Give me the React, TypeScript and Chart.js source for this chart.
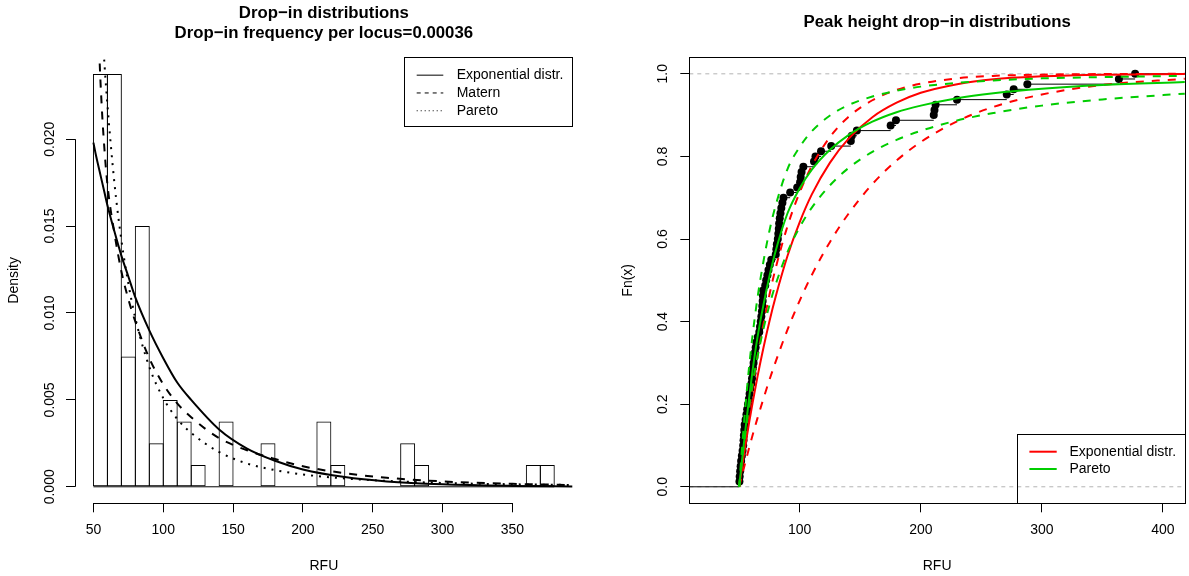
import React, { useEffect, useRef } from "react";
import { Chart, registerables } from "chart.js";

Chart.register(...registerables);

const FONT = "'Liberation Sans', Arial, Helvetica, sans-serif";
Chart.defaults.font.family = FONT;
Chart.defaults.color = "#000";

// ---------------- Left panel: histogram of drop-in peak heights ----------------
const binStarts = [50, 60, 70, 80, 90, 100, 110, 120, 130, 140, 150, 160, 170, 180, 190, 200, 210, 220, 230, 240, 250, 260, 270, 280, 290, 300, 310, 320, 330, 340, 350, 360, 370];
const binDensity = [0.02375, 0.02375, 0.0075, 0.015, 0.0025, 0.005, 0.00375, 0.00125, 0, 0.00375, 0, 0, 0.0025, 0, 0, 0, 0.00375, 0.00125, 0, 0, 0, 0, 0.0025, 0.00125, 0, 0, 0, 0, 0, 0, 0, 0.00125, 0.00125];
const binWidth = 10;

// density curves
const densX = [50, 52, 54, 56, 58, 60, 65, 70, 75, 80, 90, 100, 110, 120, 140, 160, 180, 200, 230, 260, 300, 350, 393];
const expDensity = [0.0198, 0.019, 0.0183, 0.0176, 0.0169, 0.0162, 0.0147, 0.0133, 0.0121, 0.0109, 0.009, 0.0074, 0.006, 0.005, 0.0033, 0.0022, 0.0015, 0.001, 0.00056, 0.00031, 0.00014, 0.00005, 0.00002];
const maternDensity = [0.04, 0.032, 0.0255, 0.0218, 0.0193, 0.0174, 0.0146, 0.0124, 0.0108, 0.0095, 0.0074, 0.0059, 0.0048, 0.004, 0.0028, 0.0021, 0.0016, 0.00118, 0.00078, 0.00052, 0.00031, 0.00017, 0.0001];
const paretoDensity = [0.037, 0.0331, 0.0297, 0.0268, 0.0242, 0.022, 0.0175, 0.0142, 0.0117, 0.0097, 0.0069, 0.0051, 0.0039, 0.0031, 0.002, 0.00134, 0.00096, 0.00071, 0.00048, 0.00034, 0.00022, 0.000145, 0.000104];

const histTicksX = [50, 100, 150, 200, 250, 300, 350];
const histTicksY = [0, 0.005, 0.01, 0.015, 0.02];
const histXRange = [36.8, 393.2];
const histYRange = [-0.00095, 0.0247];

// ---------------- Right panel: empirical CDF and fitted CDFs ----------------
const rfu = [
  50.2, 50.4, 50.8, 51.2, 51.6, 52.2, 52.8, 53.3, 53.6, 53.9, 54.2, 54.5, 55.3, 56.0, 56.6, 57.3, 58.0, 58.6, 59.2,
  60.1, 60.6, 61.0, 61.4, 61.9, 62.4, 63.0, 63.6, 64.2, 65.4, 66.6, 67.2, 67.8, 68.3, 68.8, 69.1, 69.4, 69.6, 69.8,
  71.5, 72.3, 73.3, 74.2, 75.3, 76.5,
  80.2, 80.7, 81.1, 81.9, 82.3, 82.7, 83.0, 83.5, 84.1, 84.8, 85.7, 86.6,
  92.1, 97.9, 100.3, 100.8, 101.5, 103.0, 111.8, 113.0, 117.6, 126.0, 142.2, 143.0, 147.2,
  175.1, 179.5, 210.7, 211.3, 212.2, 229.9, 271.0, 276.7, 288.0, 363.6, 377.0,
];

const cdfX = [50, 52, 55, 58, 61, 65, 70, 75, 80, 90, 100, 110, 125, 140, 160, 180, 200, 230, 260, 300, 350, 418];
const expCdf = [0, 0.04, 0.098, 0.152, 0.202, 0.265, 0.336, 0.401, 0.459, 0.56, 0.641, 0.708, 0.785, 0.842, 0.895, 0.93, 0.954, 0.975, 0.987, 0.994, 0.998, 0.9995];
const expCdfUpper = [0, 0.049, 0.118, 0.181, 0.24, 0.313, 0.393, 0.465, 0.528, 0.632, 0.713, 0.777, 0.847, 0.895, 0.936, 0.961, 0.976, 0.989, 0.995, 0.998, 0.9994, 1.0];
const expCdfLower = [0, 0.024, 0.058, 0.092, 0.124, 0.165, 0.213, 0.259, 0.302, 0.381, 0.451, 0.513, 0.593, 0.66, 0.733, 0.79, 0.835, 0.885, 0.92, 0.95, 0.973, 0.988];
const paretoCdf = [0, 0.055, 0.135, 0.21, 0.28, 0.36, 0.44, 0.51, 0.57, 0.663, 0.723, 0.768, 0.816, 0.851, 0.884, 0.907, 0.923, 0.941, 0.953, 0.964, 0.973, 0.98];
const paretoCdfUpper = [0, 0.08, 0.19, 0.285, 0.365, 0.455, 0.545, 0.62, 0.68, 0.77, 0.823, 0.861, 0.899, 0.924, 0.945, 0.959, 0.969, 0.978, 0.984, 0.989, 0.992, 0.995];
const paretoCdfLower = [0, 0.055, 0.127, 0.191, 0.248, 0.313, 0.382, 0.44, 0.489, 0.569, 0.629, 0.676, 0.73, 0.771, 0.811, 0.84, 0.862, 0.887, 0.905, 0.923, 0.938, 0.952];

const ecdfTicksX = [100, 200, 300, 400];
const ecdfTicksY = [0, 0.2, 0.4, 0.6, 0.8, 1.0];
const ecdfXRange = [8.8, 418.2];
const ecdfYRange = [-0.04, 1.04];
const refLevels = [0, 1];

const RED = "#FF0000";
const GREEN = "#00CD00";

const pts = (xs: number[], ys: number[]) => xs.map((x, i) => ({ x, y: ys[i] }));

// ---------------- plugin drawing R-style axes lines, box and legends ----------------
const rDecor = {
  id: "rDecor",
  afterDraw(chart: any) {
    const o = chart.options.plugins.rDecor;
    if (!o) return;
    const ctx = chart.ctx;
    const a = chart.chartArea;
    const xs = chart.scales.x;
    const ys = chart.scales.y;
    const al = (v: number) => Math.round(v) + 0.5;
    ctx.save();
    ctx.strokeStyle = "#000";
    ctx.lineWidth = 1;
    ctx.setLineDash([]);
    if (o.box) {
      ctx.strokeRect(al(a.left), al(a.top), Math.round(a.right) - Math.round(a.left), Math.round(a.bottom) - Math.round(a.top));
    }
    if (o.axisX) {
      const y = al(a.bottom);
      ctx.beginPath();
      ctx.moveTo(xs.getPixelForValue(o.axisX[0]), y);
      ctx.lineTo(xs.getPixelForValue(o.axisX[1]), y);
      ctx.stroke();
    }
    if (o.axisY) {
      const x = al(a.left);
      ctx.beginPath();
      ctx.moveTo(x, ys.getPixelForValue(o.axisY[0]));
      ctx.lineTo(x, ys.getPixelForValue(o.axisY[1]));
      ctx.stroke();
    }
    if (o.legend) {
      const L = o.legend;
      const x0 = a.right - L.width;
      const y0 = L.anchor === "top" ? a.top : a.bottom - L.height;
      ctx.strokeStyle = "#000";
      ctx.strokeRect(al(x0), al(y0), Math.round(L.width), Math.round(L.height));
      L.items.forEach((it: any, i: number) => {
        const y = y0 + L.firstRow + i * L.rowStep;
        ctx.beginPath();
        ctx.strokeStyle = it.color;
        ctx.lineWidth = it.lineWidth;
        ctx.setLineDash(it.dash || []);
        ctx.moveTo(x0 + L.lineStart, y);
        ctx.lineTo(x0 + L.lineEnd, y);
        ctx.stroke();
        ctx.setLineDash([]);
        ctx.fillStyle = "#000";
        ctx.font = `14px ${FONT}`;
        ctx.textBaseline = "middle";
        ctx.textAlign = "left";
        ctx.fillText(it.label, x0 + L.textStart, y);
      });
    }
    ctx.restore();
  },
};

const tickFont = { size: 14 };

function leftConfig(): any {
  const curve = (label: string, ys: number[], dash: number[], order: number) => ({
    type: "line",
    label,
    data: pts(densX, ys),
    borderColor: "#000",
    borderWidth: 2,
    borderDash: dash,
    pointRadius: 0,
    cubicInterpolationMode: "monotone",
    order,
  });
  return {
    type: "bar",
    data: {
      datasets: [
        curve("Exponential distr.", expDensity, [], 1),
        curve("Matern", maternDensity, [8, 8], 2),
        curve("Pareto", paretoDensity, [2, 6], 3),
        {
          type: "line",
          label: "baseline",
          data: [
            { x: binStarts[0], y: 0 },
            { x: binStarts[binStarts.length - 1] + binWidth, y: 0 },
          ],
          borderColor: "#000",
          borderWidth: 1,
          pointRadius: 0,
          order: 5,
        },
        {
          type: "bar",
          label: "Histogram",
          data: binStarts.map((s, i) => ({ x: s + binWidth / 2, y: binDensity[i] })),
          backgroundColor: "rgba(0,0,0,0)",
          borderColor: "#000",
          borderWidth: 1,
          borderSkipped: false,
          inflateAmount: 0,
          barPercentage: 1.0716,
          categoryPercentage: 1,
          order: 6,
        },
      ],
    },
    options: {
      responsive: false,
      animation: false,
      devicePixelRatio: 1,
      events: [],
      layout: { padding: { left: 0, right: 21.3, top: 0, bottom: 0 } },
      plugins: {
        legend: { display: false },
        tooltip: { enabled: false },
        title: {
          display: true,
          fullSize: false,
          text: ["Drop\u2212in distributions", "Drop\u2212in frequency per locus=0.00036"],
          color: "#000",
          font: { size: 16.8, weight: "bold" },
          padding: { top: 2.92, bottom: 14.22 },
        },
        rDecor: {
          axisX: [histTicksX[0], histTicksX[histTicksX.length - 1]],
          axisY: [histTicksY[0], histTicksY[histTicksY.length - 1]],
          legend: {
            anchor: "top",
            width: 168.4,
            height: 69.4,
            firstRow: 17.7,
            rowStep: 17.8,
            lineStart: 12.4,
            lineEnd: 39,
            textStart: 52.4,
            items: [
              { label: "Exponential distr.", color: "#000", lineWidth: 1, dash: [] },
              { label: "Matern", color: "#000", lineWidth: 1, dash: [4, 4] },
              { label: "Pareto", color: "#000", lineWidth: 1, dash: [1, 3] },
            ],
          },
        },
      },
      scales: {
        x: {
          type: "linear",
          min: histXRange[0],
          max: histXRange[1],
          offset: false,
          afterBuildTicks: (s: any) => {
            s.ticks = histTicksX.map((v) => ({ value: v }));
          },
          afterFit: (s: any) => {
            s.height = 72.7;
          },
          ticks: { autoSkip: false, minRotation: 0, maxRotation: 0, padding: 9.3, color: "#000", font: tickFont, callback: (v: any) => String(v) },
          grid: { display: true, offset: false, drawOnChartArea: false, drawTicks: true, tickLength: 9, tickColor: "#000", tickWidth: 1 },
          border: { display: false },
          title: { display: true, text: "RFU", color: "#000", font: tickFont, padding: { top: 0, bottom: 1.6 } },
        },
        y: {
          type: "linear",
          min: histYRange[0],
          max: histYRange[1],
          afterBuildTicks: (s: any) => {
            s.ticks = histTicksY.map((v) => ({ value: v }));
          },
          afterFit: (s: any) => {
            s.width = 75;
          },
          ticks: { autoSkip: false, minRotation: 90, maxRotation: 90, crossAlign: "center", padding: -1.3, color: "#000", font: tickFont, callback: (v: any) => Number(v).toFixed(3) },
          grid: { display: true, drawOnChartArea: false, drawTicks: true, tickLength: 9, tickColor: "#000", tickWidth: 1 },
          border: { display: false },
          title: { display: true, text: "Density", color: "#000", font: tickFont, padding: { top: 5.6, bottom: 0 } },
        },
      },
    },
    plugins: [rDecor],
  };
}

function rightConfig(): any {
  const curve = (label: string, ys: number[], color: string, dash: number[], order: number) => ({
    label,
    data: pts(cdfX, ys),
    borderColor: color,
    borderWidth: 2,
    borderDash: dash,
    pointRadius: 0,
    cubicInterpolationMode: "monotone",
    order,
  });
  const ecdfY = rfu.map((_, i) => (i + 1) / rfu.length);
  const steps: any[] = [
    { x: ecdfXRange[0], y: 0 },
    { x: rfu[0], y: 0 },
    { x: rfu[0], y: null },
  ];
  rfu.forEach((x, i) => {
    const next = i < rfu.length - 1 ? rfu[i + 1] : ecdfXRange[1];
    steps.push({ x, y: ecdfY[i] }, { x: next, y: ecdfY[i] }, { x: next, y: null });
  });
  const refData: any[] = [];
  refLevels.forEach((h) => {
    refData.push({ x: ecdfXRange[0], y: h }, { x: ecdfXRange[1], y: h }, { x: ecdfXRange[1], y: null });
  });
  return {
    type: "line",
    data: {
      datasets: [
        curve("Pareto", paretoCdf, GREEN, [], 1),
        curve("Pareto upper", paretoCdfUpper, GREEN, [8, 8], 2),
        curve("Pareto lower", paretoCdfLower, GREEN, [8, 8], 3),
        curve("Exponential distr.", expCdf, RED, [], 4),
        curve("Exponential upper", expCdfUpper, RED, [8, 8], 5),
        curve("Exponential lower", expCdfLower, RED, [8, 8], 6),
        {
          label: "ECDF points",
          data: rfu.map((x, i) => ({ x, y: ecdfY[i] })),
          showLine: false,
          pointRadius: 4,
          pointBackgroundColor: "#000",
          pointBorderWidth: 0,
          order: 7,
        },
        {
          label: "ECDF steps",
          data: steps,
          borderColor: "#000",
          borderWidth: 1,
          pointRadius: 0,
          spanGaps: false,
          order: 8,
        },
        {
          label: "0/1 lines",
          data: refData,
          borderColor: "#B3B3B3",
          borderWidth: 1,
          borderDash: [4, 4],
          pointRadius: 0,
          spanGaps: false,
          order: 9,
        },
      ],
    },
    options: {
      responsive: false,
      animation: false,
      devicePixelRatio: 1,
      events: [],
      layout: { padding: { left: 0, right: 1.6, top: 0, bottom: 0 } },
      plugins: {
        legend: { display: false },
        tooltip: { enabled: false },
        title: {
          display: true,
          fullSize: false,
          text: "Peak height drop\u2212in distributions",
          color: "#000",
          font: { size: 16.8, weight: "bold" },
          padding: { top: 12.42, bottom: 24.72 },
        },
        rDecor: {
          box: true,
          legend: {
            anchor: "bottom",
            width: 168,
            height: 69.3,
            firstRow: 17.7,
            rowStep: 17.3,
            lineStart: 12.4,
            lineEnd: 39.7,
            textStart: 52.4,
            items: [
              { label: "Exponential distr.", color: RED, lineWidth: 2, dash: [] },
              { label: "Pareto", color: GREEN, lineWidth: 2, dash: [] },
            ],
          },
        },
      },
      scales: {
        x: {
          type: "linear",
          min: ecdfXRange[0],
          max: ecdfXRange[1],
          offset: false,
          afterBuildTicks: (s: any) => {
            s.ticks = ecdfTicksX.map((v) => ({ value: v }));
          },
          afterFit: (s: any) => {
            s.height = 72.7;
          },
          ticks: { autoSkip: false, minRotation: 0, maxRotation: 0, padding: 9.3, color: "#000", font: tickFont, callback: (v: any) => String(v) },
          grid: { display: true, offset: false, drawOnChartArea: false, drawTicks: true, tickLength: 9, tickColor: "#000", tickWidth: 1 },
          border: { display: false },
          title: { display: true, text: "RFU", color: "#000", font: tickFont, padding: { top: 0, bottom: 1.6 } },
        },
        y: {
          type: "linear",
          min: ecdfYRange[0],
          max: ecdfYRange[1],
          afterBuildTicks: (s: any) => {
            s.ticks = ecdfTicksY.map((v) => ({ value: v }));
          },
          afterFit: (s: any) => {
            s.width = 95.3;
          },
          ticks: { autoSkip: false, minRotation: 90, maxRotation: 90, crossAlign: "center", padding: 7.3, color: "#000", font: tickFont, callback: (v: any) => Number(v).toFixed(1) },
          grid: { display: true, drawOnChartArea: false, drawTicks: true, tickLength: 9, tickColor: "#000", tickWidth: 1 },
          border: { display: false },
          title: { display: true, text: "Fn(x)", color: "#000", font: tickFont, padding: { top: 25.6, bottom: 0 } },
        },
      },
    },
    plugins: [rDecor],
  };
}

export default function App() {
  const leftRef = useRef<HTMLCanvasElement>(null);
  const rightRef = useRef<HTMLCanvasElement>(null);
  useEffect(() => {
    const c1 = new Chart(leftRef.current as HTMLCanvasElement, leftConfig());
    const c2 = new Chart(rightRef.current as HTMLCanvasElement, rightConfig());
    return () => {
      c1.destroy();
      c2.destroy();
    };
  }, []);
  return (
    <div style={{ position: "fixed", left: 0, top: 0, width: 1189, height: 576, background: "#fff" }}>
      <canvas ref={leftRef} width={594} height={576} style={{ position: "absolute", left: 0, top: 0, width: 594, height: 576 }} />
      <canvas ref={rightRef} width={595} height={576} style={{ position: "absolute", left: 594, top: 0, width: 595, height: 576 }} />
    </div>
  );
}
